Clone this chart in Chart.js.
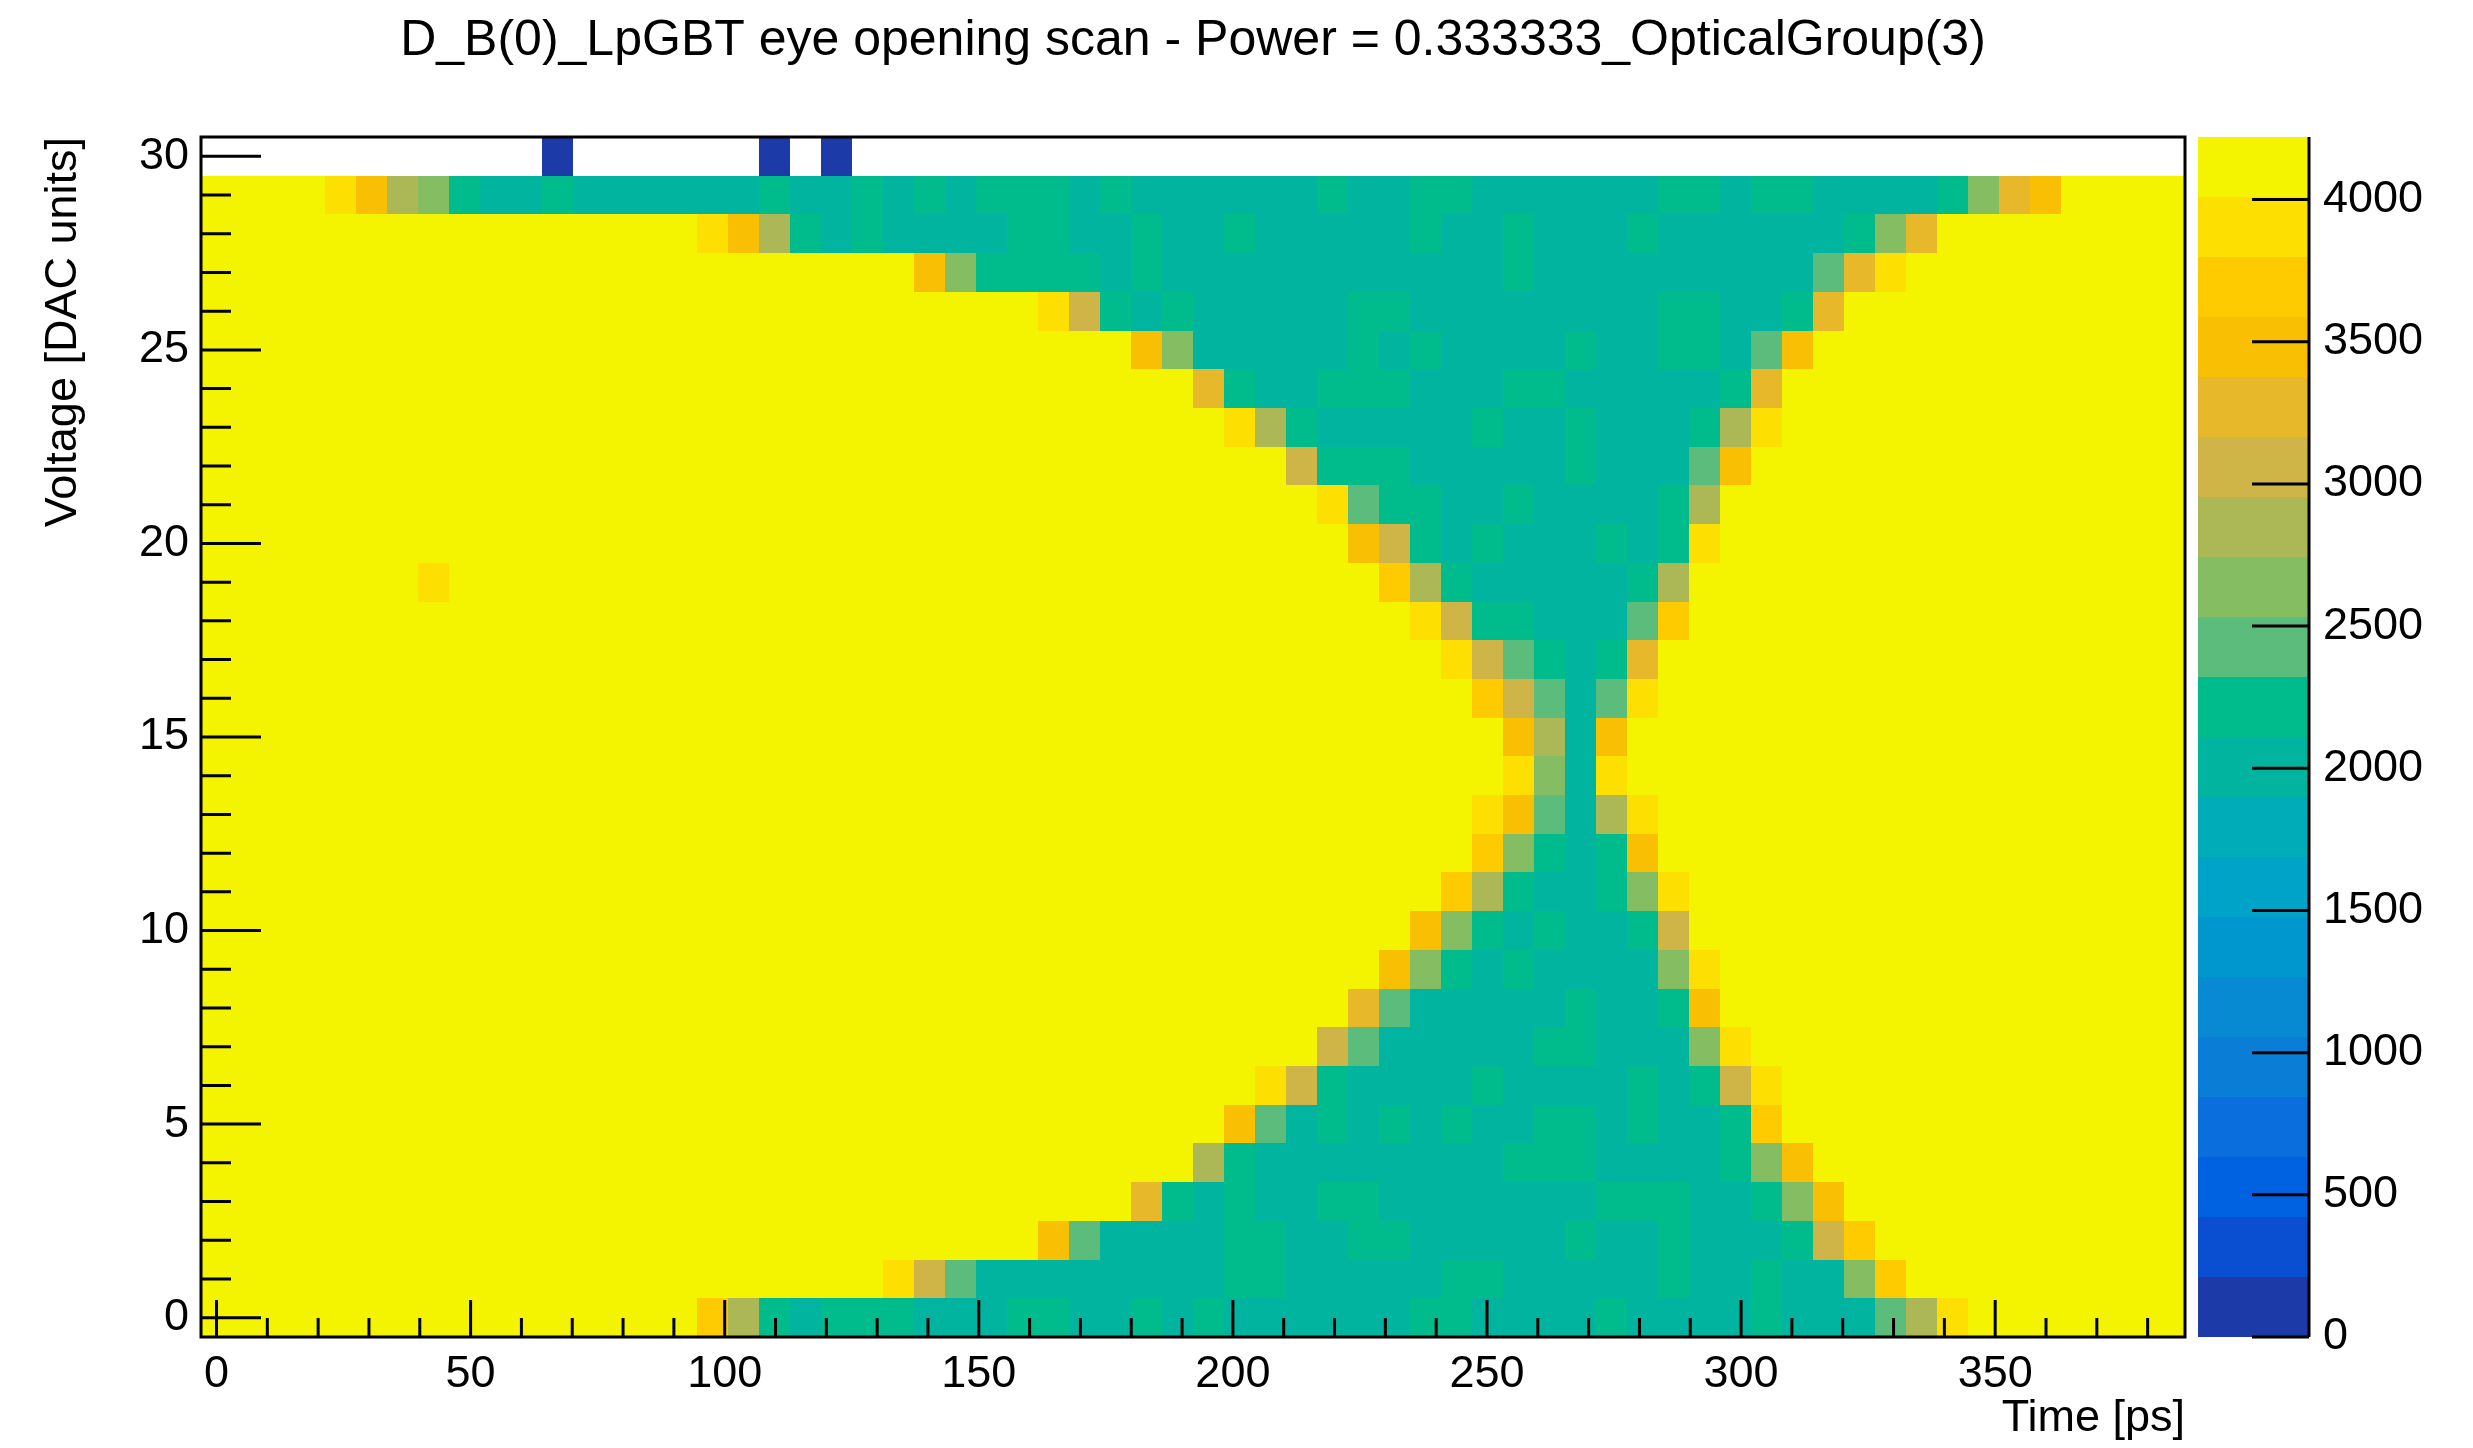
<!DOCTYPE html>
<html>
<head>
<meta charset="utf-8">
<title>LpGBT eye opening scan</title>
<script src="https://cdn.jsdelivr.net/npm/chart.js@4.4.1/dist/chart.umd.min.js"></script>
<style>
  html, body { margin: 0; padding: 0; background: #fff; }
  #eye { display: block; }
</style>
</head>
<body>
<canvas id="eye" width="2473" height="1448"></canvas>
<script>
// phase steps of the eye scan (bin centres, ps) and voltage steps (DAC units)
const timeBins = [
  0, 6.1, 12.2, 18.3, 24.4, 30.5, 36.6, 42.7, 48.8, 54.9, 61, 67.1, 73.2, 79.3, 85.4, 91.5,
  97.6, 103.7, 109.8, 115.9, 122, 128.1, 134.2, 140.3, 146.4, 152.5, 158.6, 164.7, 170.8, 176.9, 183, 189.1,
  195.2, 201.3, 207.4, 213.5, 219.6, 225.7, 231.8, 237.9, 244, 250.1, 256.2, 262.3, 268.4, 274.5, 280.6, 286.7,
  292.8, 298.9, 305, 311.1, 317.2, 323.3, 329.4, 335.5, 341.6, 347.7, 353.8, 359.9, 366, 372.1, 378.2, 384.3
];
const binWidth = 6.1;
const voltages = [0, 1, 2, 3, 4, 5, 6, 7, 8, 9, 10, 11, 12, 13, 14, 15, 16, 17, 18, 19, 20, 21, 22, 23, 24, 25, 26, 27, 28, 29, 30];

// counts per voltage row, one entry per phase step
const row0 = [
  4220,4220,4220,4220,4220,4220,4220,4220, 4220,4220,4220,4220,4220,4220,4220,4220,
  3700,2850,2160,2050,2160,2160,2160,2050, 2050,2050,2160,2160,2050,2050,2160,2050,
  2160,2050,2050,2050,2050,2050,2050,2160, 2160,2050,2050,2050,2050,2160,2050,2050,
  2050,2050,2160,2050,2050,2050,2430,2850, 3900,4220,4220,4220,4220,4220,4220,4220];
const row1 = [
  4220,4220,4220,4220,4220,4220,4220,4220, 4220,4220,4220,4220,4220,4220,4220,4220,
  4220,4220,4220,4220,4220,4220,3900,3060, 2430,2050,2050,2050,2050,2050,2050,2050,
  2050,2160,2160,2050,2050,2050,2050,2050, 2160,2160,2050,2050,2050,2050,2050,2160,
  2050,2050,2160,2050,2050,2640,3700,4220, 4220,4220,4220,4220,4220,4220,4220,4220];
const row2 = [
  4220,4220,4220,4220,4220,4220,4220,4220, 4220,4220,4220,4220,4220,4220,4220,4220,
  4220,4220,4220,4220,4220,4220,4220,4220, 4220,4220,4220,3480,2430,2050,2050,2050,
  2050,2160,2160,2050,2050,2160,2160,2050, 2050,2050,2050,2050,2160,2050,2050,2160,
  2050,2050,2050,2160,3060,3700,4220,4220, 4220,4220,4220,4220,4220,4220,4220,4220];
const row3 = [
  4220,4220,4220,4220,4220,4220,4220,4220, 4220,4220,4220,4220,4220,4220,4220,4220,
  4220,4220,4220,4220,4220,4220,4220,4220, 4220,4220,4220,4220,4220,4220,3270,2160,
  2050,2160,2050,2050,2160,2160,2050,2050, 2050,2050,2050,2050,2050,2160,2160,2160,
  2050,2050,2160,2640,3480,4220,4220,4220, 4220,4220,4220,4220,4220,4220,4220,4220];
const row4 = [
  4220,4220,4220,4220,4220,4220,4220,4220, 4220,4220,4220,4220,4220,4220,4220,4220,
  4220,4220,4220,4220,4220,4220,4220,4220, 4220,4220,4220,4220,4220,4220,4220,4220,
  2850,2160,2050,2050,2050,2050,2050,2050, 2050,2050,2160,2160,2160,2050,2050,2050,
  2050,2160,2640,3480,4220,4220,4220,4220, 4220,4220,4220,4220,4220,4220,4220,4220];
const row5 = [
  4220,4220,4220,4220,4220,4220,4220,4220, 4220,4220,4220,4220,4220,4220,4220,4220,
  4220,4220,4220,4220,4220,4220,4220,4220, 4220,4220,4220,4220,4220,4220,4220,4220,
  4220,3480,2430,2050,2160,2050,2160,2050, 2160,2050,2050,2160,2160,2050,2160,2050,
  2050,2160,3700,4220,4220,4220,4220,4220, 4220,4220,4220,4220,4220,4220,4220,4220];
const row6 = [
  4220,4220,4220,4220,4220,4220,4220,4220, 4220,4220,4220,4220,4220,4220,4220,4220,
  4220,4220,4220,4220,4220,4220,4220,4220, 4220,4220,4220,4220,4220,4220,4220,4220,
  4220,4220,3900,3060,2160,2050,2050,2050, 2050,2160,2050,2050,2050,2050,2160,2050,
  2160,3060,3900,4220,4220,4220,4220,4220, 4220,4220,4220,4220,4220,4220,4220,4220];
const row7 = [
  4220,4220,4220,4220,4220,4220,4220,4220, 4220,4220,4220,4220,4220,4220,4220,4220,
  4220,4220,4220,4220,4220,4220,4220,4220, 4220,4220,4220,4220,4220,4220,4220,4220,
  4220,4220,4220,4220,3060,2430,2050,2050, 2050,2050,2050,2160,2160,2050,2050,2050,
  2640,3900,4220,4220,4220,4220,4220,4220, 4220,4220,4220,4220,4220,4220,4220,4220];
const row8 = [
  4220,4220,4220,4220,4220,4220,4220,4220, 4220,4220,4220,4220,4220,4220,4220,4220,
  4220,4220,4220,4220,4220,4220,4220,4220, 4220,4220,4220,4220,4220,4220,4220,4220,
  4220,4220,4220,4220,4220,3270,2430,2050, 2050,2050,2050,2050,2160,2050,2050,2160,
  3480,4220,4220,4220,4220,4220,4220,4220, 4220,4220,4220,4220,4220,4220,4220,4220];
const row9 = [
  4220,4220,4220,4220,4220,4220,4220,4220, 4220,4220,4220,4220,4220,4220,4220,4220,
  4220,4220,4220,4220,4220,4220,4220,4220, 4220,4220,4220,4220,4220,4220,4220,4220,
  4220,4220,4220,4220,4220,4220,3480,2640, 2160,2050,2160,2050,2050,2050,2050,2640,
  3900,4220,4220,4220,4220,4220,4220,4220, 4220,4220,4220,4220,4220,4220,4220,4220];
const row10 = [
  4220,4220,4220,4220,4220,4220,4220,4220, 4220,4220,4220,4220,4220,4220,4220,4220,
  4220,4220,4220,4220,4220,4220,4220,4220, 4220,4220,4220,4220,4220,4220,4220,4220,
  4220,4220,4220,4220,4220,4220,4220,3480, 2640,2160,2050,2160,2050,2050,2160,3060,
  4220,4220,4220,4220,4220,4220,4220,4220, 4220,4220,4220,4220,4220,4220,4220,4220];
const row11 = [
  4220,4220,4220,4220,4220,4220,4220,4220, 4220,4220,4220,4220,4220,4220,4220,4220,
  4220,4220,4220,4220,4220,4220,4220,4220, 4220,4220,4220,4220,4220,4220,4220,4220,
  4220,4220,4220,4220,4220,4220,4220,4220, 3700,2850,2160,2050,2050,2160,2640,3900,
  4220,4220,4220,4220,4220,4220,4220,4220, 4220,4220,4220,4220,4220,4220,4220,4220];
const row12 = [
  4220,4220,4220,4220,4220,4220,4220,4220, 4220,4220,4220,4220,4220,4220,4220,4220,
  4220,4220,4220,4220,4220,4220,4220,4220, 4220,4220,4220,4220,4220,4220,4220,4220,
  4220,4220,4220,4220,4220,4220,4220,4220, 4220,3700,2640,2160,2050,2160,3480,4220,
  4220,4220,4220,4220,4220,4220,4220,4220, 4220,4220,4220,4220,4220,4220,4220,4220];
const row13 = [
  4220,4220,4220,4220,4220,4220,4220,4220, 4220,4220,4220,4220,4220,4220,4220,4220,
  4220,4220,4220,4220,4220,4220,4220,4220, 4220,4220,4220,4220,4220,4220,4220,4220,
  4220,4220,4220,4220,4220,4220,4220,4220, 4220,3900,3480,2430,2050,2850,3900,4220,
  4220,4220,4220,4220,4220,4220,4220,4220, 4220,4220,4220,4220,4220,4220,4220,4220];
const row14 = [
  4220,4220,4220,4220,4220,4220,4220,4220, 4220,4220,4220,4220,4220,4220,4220,4220,
  4220,4220,4220,4220,4220,4220,4220,4220, 4220,4220,4220,4220,4220,4220,4220,4220,
  4220,4220,4220,4220,4220,4220,4220,4220, 4220,4220,3900,2640,2050,3900,4220,4220,
  4220,4220,4220,4220,4220,4220,4220,4220, 4220,4220,4220,4220,4220,4220,4220,4220];
const row15 = [
  4220,4220,4220,4220,4220,4220,4220,4220, 4220,4220,4220,4220,4220,4220,4220,4220,
  4220,4220,4220,4220,4220,4220,4220,4220, 4220,4220,4220,4220,4220,4220,4220,4220,
  4220,4220,4220,4220,4220,4220,4220,4220, 4220,4220,3480,2850,2050,3480,4220,4220,
  4220,4220,4220,4220,4220,4220,4220,4220, 4220,4220,4220,4220,4220,4220,4220,4220];
const row16 = [
  4220,4220,4220,4220,4220,4220,4220,4220, 4220,4220,4220,4220,4220,4220,4220,4220,
  4220,4220,4220,4220,4220,4220,4220,4220, 4220,4220,4220,4220,4220,4220,4220,4220,
  4220,4220,4220,4220,4220,4220,4220,4220, 4220,3700,3060,2430,2050,2430,3900,4220,
  4220,4220,4220,4220,4220,4220,4220,4220, 4220,4220,4220,4220,4220,4220,4220,4220];
const row17 = [
  4220,4220,4220,4220,4220,4220,4220,4220, 4220,4220,4220,4220,4220,4220,4220,4220,
  4220,4220,4220,4220,4220,4220,4220,4220, 4220,4220,4220,4220,4220,4220,4220,4220,
  4220,4220,4220,4220,4220,4220,4220,4220, 3900,3060,2430,2160,2050,2160,3270,4220,
  4220,4220,4220,4220,4220,4220,4220,4220, 4220,4220,4220,4220,4220,4220,4220,4220];
const row18 = [
  4220,4220,4220,4220,4220,4220,4220,4220, 4220,4220,4220,4220,4220,4220,4220,4220,
  4220,4220,4220,4220,4220,4220,4220,4220, 4220,4220,4220,4220,4220,4220,4220,4220,
  4220,4220,4220,4220,4220,4220,4220,3900, 3060,2160,2160,2050,2050,2050,2430,3700,
  4220,4220,4220,4220,4220,4220,4220,4220, 4220,4220,4220,4220,4220,4220,4220,4220];
const row19 = [
  4220,4220,4220,4220,4220,4220,4220,3900, 4220,4220,4220,4220,4220,4220,4220,4220,
  4220,4220,4220,4220,4220,4220,4220,4220, 4220,4220,4220,4220,4220,4220,4220,4220,
  4220,4220,4220,4220,4220,4220,3700,2850, 2160,2050,2050,2050,2050,2050,2160,2850,
  4220,4220,4220,4220,4220,4220,4220,4220, 4220,4220,4220,4220,4220,4220,4220,4220];
const row20 = [
  4220,4220,4220,4220,4220,4220,4220,4220, 4220,4220,4220,4220,4220,4220,4220,4220,
  4220,4220,4220,4220,4220,4220,4220,4220, 4220,4220,4220,4220,4220,4220,4220,4220,
  4220,4220,4220,4220,4220,3480,3060,2160, 2050,2160,2050,2050,2050,2160,2050,2160,
  3900,4220,4220,4220,4220,4220,4220,4220, 4220,4220,4220,4220,4220,4220,4220,4220];
const row21 = [
  4220,4220,4220,4220,4220,4220,4220,4220, 4220,4220,4220,4220,4220,4220,4220,4220,
  4220,4220,4220,4220,4220,4220,4220,4220, 4220,4220,4220,4220,4220,4220,4220,4220,
  4220,4220,4220,4220,3900,2430,2160,2160, 2050,2050,2160,2050,2050,2050,2050,2160,
  2850,4220,4220,4220,4220,4220,4220,4220, 4220,4220,4220,4220,4220,4220,4220,4220];
const row22 = [
  4220,4220,4220,4220,4220,4220,4220,4220, 4220,4220,4220,4220,4220,4220,4220,4220,
  4220,4220,4220,4220,4220,4220,4220,4220, 4220,4220,4220,4220,4220,4220,4220,4220,
  4220,4220,4220,3060,2160,2160,2160,2050, 2050,2050,2050,2050,2160,2050,2050,2050,
  2430,3480,4220,4220,4220,4220,4220,4220, 4220,4220,4220,4220,4220,4220,4220,4220];
const row23 = [
  4220,4220,4220,4220,4220,4220,4220,4220, 4220,4220,4220,4220,4220,4220,4220,4220,
  4220,4220,4220,4220,4220,4220,4220,4220, 4220,4220,4220,4220,4220,4220,4220,4220,
  4220,3900,2850,2160,2050,2050,2050,2050, 2050,2160,2050,2050,2160,2050,2050,2050,
  2160,2850,3900,4220,4220,4220,4220,4220, 4220,4220,4220,4220,4220,4220,4220,4220];
const row24 = [
  4220,4220,4220,4220,4220,4220,4220,4220, 4220,4220,4220,4220,4220,4220,4220,4220,
  4220,4220,4220,4220,4220,4220,4220,4220, 4220,4220,4220,4220,4220,4220,4220,4220,
  3270,2160,2050,2050,2160,2160,2160,2050, 2050,2050,2160,2160,2050,2050,2050,2050,
  2050,2160,3270,4220,4220,4220,4220,4220, 4220,4220,4220,4220,4220,4220,4220,4220];
const row25 = [
  4220,4220,4220,4220,4220,4220,4220,4220, 4220,4220,4220,4220,4220,4220,4220,4220,
  4220,4220,4220,4220,4220,4220,4220,4220, 4220,4220,4220,4220,4220,4220,3480,2640,
  2050,2050,2050,2050,2050,2160,2050,2160, 2050,2050,2050,2050,2160,2050,2050,2160,
  2160,2050,2430,3480,4220,4220,4220,4220, 4220,4220,4220,4220,4220,4220,4220,4220];
const row26 = [
  4220,4220,4220,4220,4220,4220,4220,4220, 4220,4220,4220,4220,4220,4220,4220,4220,
  4220,4220,4220,4220,4220,4220,4220,4220, 4220,4220,4220,3900,3060,2160,2050,2160,
  2050,2050,2050,2050,2050,2160,2160,2050, 2050,2050,2050,2050,2050,2050,2050,2160,
  2160,2050,2050,2160,3270,4220,4220,4220, 4220,4220,4220,4220,4220,4220,4220,4220];
const row27 = [
  4220,4220,4220,4220,4220,4220,4220,4220, 4220,4220,4220,4220,4220,4220,4220,4220,
  4220,4220,4220,4220,4220,4220,4220,3480, 2640,2160,2160,2160,2160,2050,2160,2050,
  2050,2050,2050,2050,2050,2050,2050,2050, 2050,2050,2160,2050,2050,2050,2050,2050,
  2050,2050,2050,2050,2430,3270,3900,4220, 4220,4220,4220,4220,4220,4220,4220,4220];
const row28 = [
  4220,4220,4220,4220,4220,4220,4220,4220, 4220,4220,4220,4220,4220,4220,4220,4220,
  3900,3480,2850,2160,2050,2160,2050,2050, 2050,2050,2160,2160,2050,2050,2160,2050,
  2050,2160,2050,2050,2050,2050,2050,2160, 2050,2050,2160,2050,2050,2050,2160,2050,
  2050,2050,2050,2050,2050,2160,2640,3270, 4220,4220,4220,4220,4220,4220,4220,4220];
const row29 = [
  4220,4220,4220,4220,3900,3480,2850,2640, 2160,2050,2050,2160,2050,2050,2050,2050,
  2050,2050,2160,2050,2050,2160,2050,2160, 2050,2160,2160,2160,2050,2160,2050,2050,
  2050,2050,2050,2050,2160,2050,2050,2160, 2160,2050,2050,2050,2050,2050,2050,2160,
  2160,2050,2160,2160,2050,2050,2050,2050, 2160,2640,3270,3480,4220,4220,4220,4220];
const row30 = [
  0,0,0,0,0,0,0,0, 0,0,0,60,0,0,0,0,
  0,0,40,0,50,0,0,0, 0,0,0,0,0,0,0,0,
  0,0,0,0,0,0,0,0, 0,0,0,0,0,0,0,0,
  0,0,0,0,0,0,0,0, 0,0,0,0,0,0,0,0];

const scanRows = [row0, row1, row2, row3, row4, row5, row6, row7, row8, row9, row10,
  row11, row12, row13, row14, row15, row16, row17, row18, row19, row20,
  row21, row22, row23, row24, row25, row26, row27, row28, row29, row30];

const xTickLabels = [0, 50, 100, 150, 200, 250, 300, 350];
const yTickLabels = [0, 5, 10, 15, 20, 25, 30];
const zTickLabels = [0, 500, 1000, 1500, 2000, 2500, 3000, 3500, 4000];

// 20-step palette, dark blue -> teal -> yellow
const palette = [
  '#1d3ba8', '#0a4fd2', '#0062e0', '#0a6fdc', '#0a7dd6',
  '#078ad2', '#0097cf', '#00a3c8', '#00acb8', '#00b4a0',
  '#00bc8c', '#5bbc7b', '#85bd62', '#abb855', '#cfb447',
  '#e7b92a', '#f9c003', '#fdcb00', '#fde002', '#f4f400'
];

const zMax = Math.max(...scanRows.flat());
const bandSize = zMax / palette.length;

function colourFor(v) {
  let k = Math.floor(v / bandSize);
  if (k >= palette.length) k = palette.length - 1;
  return palette[k];
}

var cells = [];
voltages.forEach((volt, r) => {
  timeBins.forEach((t, c) => {
    const v = scanRows[r][c];
    if (v > 0) cells.push({ x: t, y: volt, v: v });
  });
});

// fill one rectangle per bin, like COLZ
const heatmap = {
  id: 'heatmap',
  beforeDatasetsDraw(chart) {
    const { ctx, chartArea: a, scales: { x, y } } = chart;
    ctx.save();
    ctx.beginPath();
    ctx.rect(a.left, a.top, a.width, a.height);
    ctx.clip();
    chart.data.datasets[0].data.forEach((cell) => {
      const x0 = Math.round(x.getPixelForValue(cell.x - binWidth / 2));
      const x1 = Math.round(x.getPixelForValue(cell.x + binWidth / 2));
      const y0 = Math.round(y.getPixelForValue(cell.y - 0.5));
      const y1 = Math.round(y.getPixelForValue(cell.y + 0.5));
      ctx.fillStyle = colourFor(cell.v);
      ctx.fillRect(x0, y1, x1 - x0, y0 - y1);
    });
    ctx.restore();
  }
};

// frame, inward ticks and the palette bar on the right
const frameAndPalette = {
  id: 'frameAndPalette',
  afterDatasetsDraw(chart) {
    const { ctx, chartArea: a, scales: { x, y, z } } = chart;
    ctx.save();
    ctx.strokeStyle = '#000';
    ctx.lineWidth = 3;

    ctx.beginPath();
    for (let t = 0; t <= 380; t += 10) {
      const px = x.getPixelForValue(t);
      const len = t % 50 === 0 ? 37 : 19;
      ctx.moveTo(px, a.bottom);
      ctx.lineTo(px, a.bottom - len);
    }
    for (let v = 0; v <= 30; v++) {
      const py = y.getPixelForValue(v);
      const len = v % 5 === 0 ? 60 : 30;
      ctx.moveTo(a.left, py);
      ctx.lineTo(a.left + len, py);
    }
    ctx.stroke();
    ctx.strokeRect(a.left, a.top, a.width, a.height);

    const barLeft = z.left + 13;
    const barRight = z.left + 124;
    palette.forEach((col, k) => {
      const yb = Math.round(z.getPixelForValue(k * bandSize));
      const yt = Math.round(z.getPixelForValue((k + 1) * bandSize));
      ctx.fillStyle = col;
      ctx.fillRect(barLeft, yt, barRight - barLeft, yb - yt);
    });
    ctx.beginPath();
    ctx.moveTo(barRight, z.top);
    ctx.lineTo(barRight, z.bottom);
    zTickLabels.forEach((v) => {
      const py = z.getPixelForValue(v);
      ctx.moveTo(barRight, py);
      ctx.lineTo(barRight - 57, py);
    });
    ctx.stroke();
    ctx.restore();
  }
};

Chart.defaults.font.family = "'Liberation Sans', Arial, Helvetica, sans-serif";
Chart.defaults.color = '#000';

const tickFont = { size: 45 };

new Chart(document.getElementById('eye'), {
  type: 'scatter',
  data: {
    datasets: [{
      label: 'eye scan',
      data: cells,
      pointRadius: 0,
      pointHoverRadius: 0
    }]
  },
  options: {
    responsive: false,
    animation: false,
    devicePixelRatio: 1,
    layout: { padding: 0 },
    plugins: {
      legend: { display: false },
      tooltip: { enabled: false },
      title: {
        display: true,
        fullSize: false,
        text: 'D_B(0)_LpGBT eye opening scan - Power = 0.333333_OpticalGroup(3)',
        color: '#000',
        font: { size: 50, weight: 'normal' },
        padding: { top: 11, bottom: 66 }
      }
    },
    scales: {
      x: {
        type: 'linear',
        position: 'bottom',
        min: -3.05,
        max: 387.35,
        grid: { display: false, drawTicks: false },
        border: { display: false },
        afterBuildTicks: (s) => { s.ticks = xTickLabels.map((v) => ({ value: v })); },
        afterFit: (s) => { s.height = 111; s.paddingLeft = 0; s.paddingRight = 0; },
        ticks: { font: tickFont, padding: 11, maxRotation: 0, autoSkip: false, callback: (v) => String(v) },
        title: { display: true, text: 'Time [ps]', align: 'end', font: tickFont, padding: { top: 0, bottom: 2 } }
      },
      y: {
        type: 'linear',
        position: 'left',
        min: -0.5,
        max: 30.5,
        grid: { display: false, drawTicks: false },
        border: { display: false },
        afterBuildTicks: (s) => { s.ticks = yTickLabels.map((v) => ({ value: v })); },
        afterFit: (s) => { s.width = 201; s.paddingTop = 0; s.paddingBottom = 0; },
        ticks: { font: tickFont, padding: 12, autoSkip: false, callback: (v) => String(v) },
        title: { display: true, text: 'Voltage [DAC units]', align: 'end', font: tickFont, padding: { top: 37, bottom: 0 } }
      },
      z: {
        type: 'linear',
        axis: 'y',
        position: 'right',
        min: 0,
        max: zMax,
        grid: { display: false, drawTicks: false },
        border: { display: false },
        afterBuildTicks: (s) => { s.ticks = zTickLabels.map((v) => ({ value: v })); },
        // labels sit right of the bar; keep them from padding the plot area
        afterFit: (s) => { s.width = 288; s.paddingTop = 0; s.paddingBottom = 0; },
        ticks: { font: tickFont, padding: 138, autoSkip: false, callback: (v) => String(v) }
      }
    }
  },
  plugins: [heatmap, frameAndPalette]
});
</script>
</body>
</html>
